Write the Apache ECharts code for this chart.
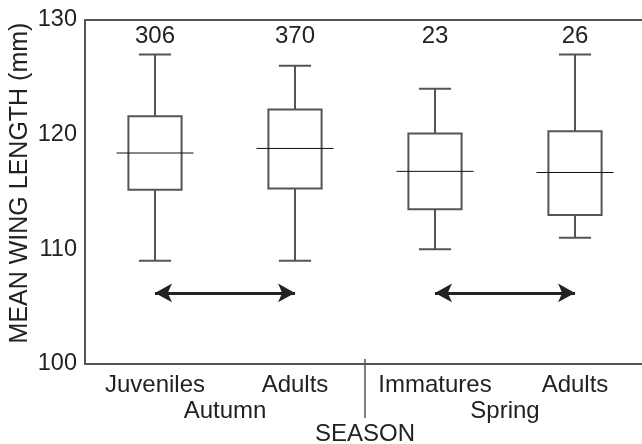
<!DOCTYPE html>
<html>
<head>
<meta charset="utf-8">
<script src="https://cdn.jsdelivr.net/npm/echarts@6/dist/echarts.min.js"></script>
<style>
  html, body { margin: 0; padding: 0; background: #fff; }
  #main { width: 642px; height: 444px; }
</style>
</head>
<body>
<div id="main"></div>
<script>
// groups along the x axis
const categories = ['Juveniles', 'Adults', 'Immatures', 'Adults'];
const seasons = ['Autumn', 'Spring'];
const counts = ['306', '370', '23', '26'];

// box plot values (mm)
const whiskerLow = [109, 109, 110, 111];
const q1 = [115.2, 115.3, 113.5, 113.0];
const median = [118.4, 118.8, 116.8, 116.7];
const q3 = [121.6, 122.2, 120.1, 120.3];
const whiskerHigh = [127, 126, 124, 127];

// double arrows between group pairs
const arrowY = 106.2;
const arrowPairs = [[0, 1], [2, 3]];

const yTicks = [100, 110, 120, 130];

const ink = '#222';
const axisGrey = '#555';
const font = 'Liberation Sans, Arial, sans-serif';

const boxData = categories.map((c, i) => [i, whiskerLow[i], q1[i], median[i], q3[i], whiskerHigh[i]]);

function renderBox(params, api) {
  const i = api.value(0);
  const lo = api.coord([i, api.value(1)]);
  const b1 = api.coord([i, api.value(2)]);
  const md = api.coord([i, api.value(3)]);
  const b3 = api.coord([i, api.value(4)]);
  const hi = api.coord([i, api.value(5)]);
  const band = api.size([1, 0])[0];
  const cx = lo[0];
  const bw = band * 0.38 / 2;   // half box width
  const cw = band * 0.23 / 2;   // half cap width
  const mw = band * 0.55 / 2;   // half median width
  const st = { stroke: axisGrey, lineWidth: 2, fill: null };
  return {
    type: 'group',
    children: [
      { type: 'line', shape: { x1: cx, y1: b3[1], x2: cx, y2: hi[1] }, style: st },
      { type: 'line', shape: { x1: cx, y1: b1[1], x2: cx, y2: lo[1] }, style: st },
      { type: 'line', shape: { x1: cx - cw, y1: hi[1], x2: cx + cw, y2: hi[1] }, style: st },
      { type: 'line', shape: { x1: cx - cw, y1: lo[1], x2: cx + cw, y2: lo[1] }, style: st },
      { type: 'rect', shape: { x: cx - bw, y: b3[1], width: bw * 2, height: b1[1] - b3[1] },
        style: { stroke: axisGrey, lineWidth: 2, fill: '#fff' } },
      { type: 'line', shape: { x1: cx - mw, y1: md[1], x2: cx + mw, y2: md[1] },
        style: { stroke: '#111', lineWidth: 1 } }
    ]
  };
}

const chart = echarts.init(document.getElementById('main'), null, { renderer: 'canvas' });

chart.setOption({
  animation: false,
  textStyle: { fontFamily: font, color: ink },
  grid: { left: 85, right: -3, top: 20, bottom: 80, outerBoundsMode: 'none', containLabel: false },
  xAxis: [
    {
      type: 'category',
      data: categories,
      position: 'bottom',
      axisLine: { lineStyle: { color: axisGrey, width: 2 } },
      axisTick: { inside: true, length: 4, lineStyle: { color: axisGrey, width: 1 } },
      axisLabel: { interval: 0, fontSize: 24, color: ink, margin: 9, fontFamily: font }
    },
    {
      type: 'category',
      data: seasons,
      position: 'bottom',
      axisLine: { show: false },
      axisTick: { show: false },
      axisLabel: { interval: 0, fontSize: 24, color: ink, margin: 35, fontFamily: font },
      name: 'SEASON',
      nameLocation: 'middle',
      nameGap: 58,
      nameMoveOverlap: false,
      nameTextStyle: { fontSize: 24, color: ink, fontFamily: font }
    },
    {
      type: 'category',
      data: counts,
      position: 'top',
      axisLine: { lineStyle: { color: axisGrey, width: 2 } },
      axisTick: { show: false },
      axisLabel: { interval: 0, inside: true, fontSize: 24, color: ink, margin: 4, fontFamily: font }
    }
  ],
  yAxis: {
    type: 'value',
    min: 100,
    max: 130,
    interval: 5,
    name: 'MEAN WING LENGTH (mm)',
    nameLocation: 'middle',
    nameGap: 52,
    nameMoveOverlap: false,
    nameTextStyle: { fontSize: 25, color: ink, fontFamily: font, padding: [0, 0, 0, 18] },
    axisLine: { show: true, lineStyle: { color: axisGrey, width: 2 } },
    axisTick: { inside: true, length: 5, lineStyle: { color: axisGrey, width: 1 } },
    splitLine: { show: false },
    axisLabel: {
      fontSize: 23.5, color: ink, margin: 8, fontFamily: font,
      formatter: v => (yTicks.indexOf(v) >= 0 ? String(v) : '')
    }
  },
  graphic: [
    {
      type: 'line',
      shape: { x1: 365, y1: 359, x2: 365, y2: 418 },
      style: { stroke: axisGrey, lineWidth: 1.5 }
    }
  ],
  series: [
    {
      type: 'custom',
      xAxisIndex: 0,
      renderItem: renderBox,
      encode: { x: 0, y: [1, 2, 3, 4, 5] },
      data: boxData,
      markLine: {
        silent: true,
        symbol: ['arrow', 'arrow'],
        symbolSize: [14, 17],
        label: { show: false },
        lineStyle: { color: ink, width: 3, type: 'solid' },
        data: arrowPairs.map(p => [{ coord: [p[0], arrowY] }, { coord: [p[1], arrowY] }])
      }
    }
  ]
});
</script>
</body>
</html>
